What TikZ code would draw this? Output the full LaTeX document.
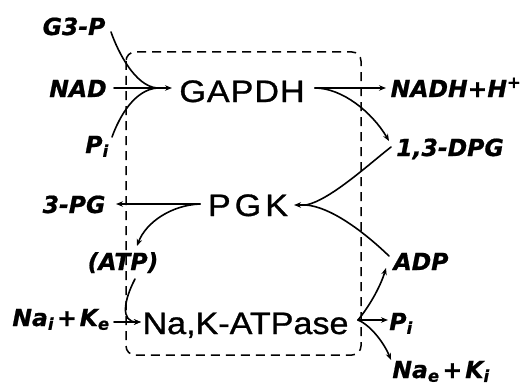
\documentclass[tikz,border=0pt]{standalone}
\usepackage{fontspec}
\setmainfont{Liberation Sans}
\newfontfamily\enzfont{Liberation Sans}[FakeStretch=1.1,FakeBold=1]
\newfontfamily\labfont{DejaVu Sans}[FakeBold=0.8]
\usetikzlibrary{arrows.meta}
\begin{document}
\begin{tikzpicture}[x=1pt,y=-1pt,
  enz/.style={font=\enzfont\fontsize{31}{34}\selectfont, inner sep=0pt, anchor=base},
  lab/.style={font=\labfont\bfseries\itshape\fontsize{23.5}{26}\selectfont, inner sep=0pt, anchor=base},
  flow/.style={line width=1.6pt, line cap=round},
  conn/.style={flow, -{Stealth[length=7pt,width=5.5pt]}},
  cellbox/.style={line width=1.5pt, dash pattern=on 9pt off 6pt, rounded corners=9pt}]
\useasboundingbox (0,0) rectangle (526,385);

% membrane (dashed compartment)
\draw[cellbox] (126,52) rectangle (361,355);

% enzymes
\node[enz] (gapdh) at (242,102) {G\kern1pt A\kern1pt P\kern1pt D\kern1pt H};
\node[enz] (pgk)   at (248,216) {P\kern4pt G\kern4pt K};
\node[enz] (atpase) at (245.5,334) {Na,K-ATPase};

% metabolites and ions
\node[lab] (g3p)  at (74,35)   {G3-P};
\node[lab] (nad)  at (78,97)   {NAD};
\node[lab] (pia)  at (97,153)  {P\textsubscript{i}};
\node[lab] (nadh) at (456,97)  {NADH+H\textsuperscript{+}};
\node[lab] (dpg)  at (450,156) {1,3-DPG};
\node[lab] (pg3)  at (74,213)  {3-PG};
\node[lab] (atp)  at (123,270) {(ATP)};
\node[lab] (nai)  at (61,326)  {Na\textsubscript{i}\kern3pt+\kern3pt K\textsubscript{e}};
\node[lab] (adp)  at (421,270) {ADP};
\node[lab] (pib)  at (401,330) {P\textsubscript{i}};
\node[lab] (nae)  at (441,378) {Na\textsubscript{e}\kern3pt+\kern3pt K\textsubscript{i}};

% branch points
\coordinate (jg) at (157,88);
\coordinate (jo) at (315,88);
\coordinate (jp) at (306,205);
\coordinate (jl) at (200,204);
\coordinate (ja) at (358,320);

% GAPDH step
\draw[flow] (111,32) .. controls (118,52) and (135,86) .. (jg);
\draw[flow] (112,137) .. controls (120,115) and (135,90) .. (jg);
\draw[conn] (114,88) -- (172,88);
\draw[conn] (jo) -- (386,88);
\draw[conn] (jo) .. controls (342,88) and (372,112) .. (389,141);

% PGK step
\draw[flow] (391,147) .. controls (368,165) and (330,200) .. (jp);
\draw[flow] (389,256) .. controls (362,230) and (330,207) .. (jp);
\draw[conn] (jp) -- (294,205);
\draw[conn] (jl) -- (116,204);
\draw[conn] (jl) .. controls (172,205) and (146,222) .. (137,246);

% Na,K-ATPase step
\draw[conn] (135,279) .. controls (124,300) and (120,322) .. (141,322);
\draw[conn] (114,322) -- (141,322);
\draw[conn] (ja) -- (388,320);
\draw[conn] (ja) .. controls (368,308) and (380,288) .. (386,268);
\draw[conn] (ja) .. controls (372,326) and (385,345) .. (391,360);
\end{tikzpicture}
\end{document}
